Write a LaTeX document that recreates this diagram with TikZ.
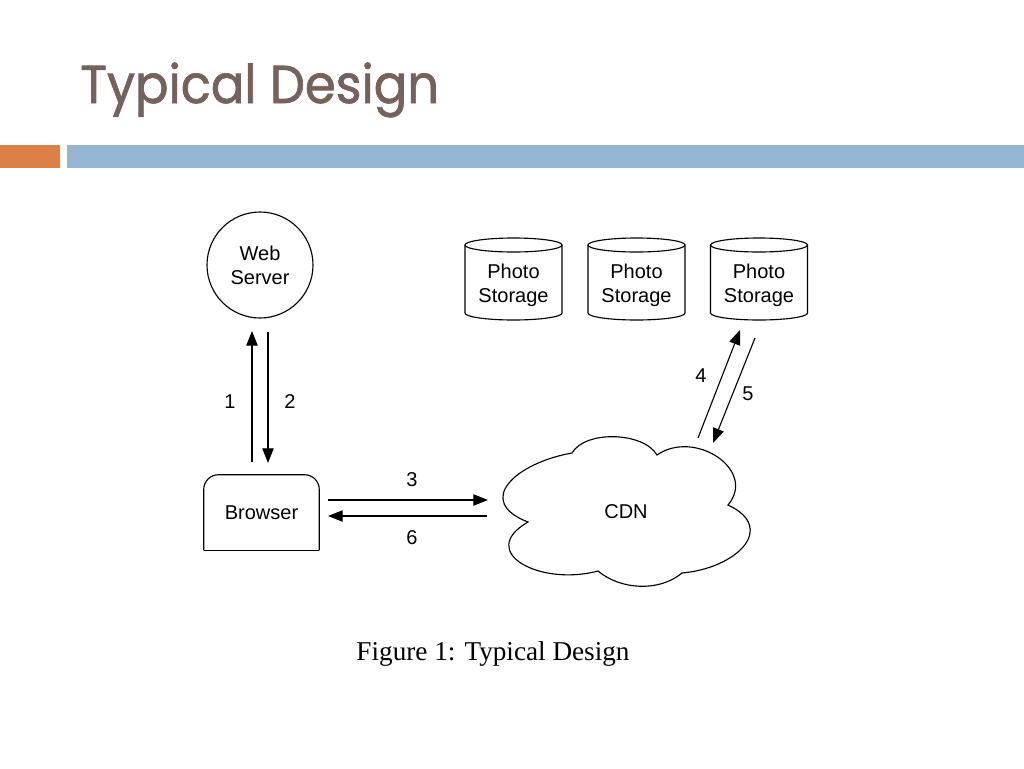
\documentclass[tikz,border=0pt]{standalone}
\usepackage{fontspec}
\setmainfont{Liberation Sans}
\newfontfamily\titlefont[FakeStretch=0.93, FakeBold=1.3]{Poppins}
\newfontfamily\capfont{Liberation Serif}
\usetikzlibrary{arrows.meta}
\definecolor{titlecol}{RGB}{118,98,92}
\definecolor{barorange}{RGB}{221,128,71}
\definecolor{barblue}{RGB}{148,182,210}
\tikzset{
  lbl/.style={font=\fontsize{15pt}{18pt}\selectfont, inner sep=0pt},
  conn/.style={line width=0.85pt, -{Triangle[length=11pt,width=8.5pt]}},
  shapeline/.style={line width=0.85pt},
}
\begin{document}
\begin{tikzpicture}[x=0.75pt,y=0.75pt]
\useasboundingbox (0,0) rectangle (1024,-768);
\fill[white] (0,0) rectangle (1024,-768);
% header
\node[anchor=base west, inner sep=0pt, text=titlecol, font=\titlefont\fontsize{40pt}{48pt}\selectfont] (title) at (80,-103) {Typical Design};
\fill[barorange] (0,-145) rectangle (60,-168);
\fill[barblue] (67,-145) rectangle (1024,-168);
% web server
\node[circle, draw, shapeline, minimum size=79.5pt, inner sep=0pt, align=center, lbl] (ws) at (260,-265) {Web\\Server};
% browser
\node[minimum width=86.25pt, minimum height=56.25pt, inner sep=0pt, lbl] (br) at (261.5,-512.5) {Browser};
\draw[shapeline, rounded corners=11pt] (br.south west) -- (br.north west) -- (br.north east) -- (br.south east);
\draw[shapeline] (br.south west) -- (br.south east);
% photo storage cylinders
\foreach \n/\cx in {1/513.5, 2/636.5, 3/759}{
  \node[align=center, lbl, minimum width=72.75pt, minimum height=61.5pt] (ps\n) at (\cx,-285) {Photo\\Storage};
  \draw[shapeline] (\cx-48.5,-245) -- (\cx-48.5,-313) arc[start angle=180, end angle=360, x radius=48.5, y radius=7] -- (\cx+48.5,-245);
  \draw[shapeline] (\cx,-245) ellipse[x radius=48.5, y radius=7];
}
% CDN cloud
\node[lbl, minimum width=180pt, minimum height=105pt] (cdn) at (626,-512) {CDN};
\draw[shapeline] (528,-522)
  to[out=159, in=-170, looseness=1.8] (572,-453)
  to[out=60, in=120, looseness=0.8] (657,-455)
  to[out=35, in=50, looseness=1.35] (728,-505)
  to[out=-25, in=5, looseness=1.7] (682,-573)
  to[out=-140, in=-40, looseness=0.9] (598,-571)
  to[out=-165, in=-150, looseness=1.8] cycle;
% connector end points
\coordinate (a1s) at (252,-462); \coordinate (a1e) at (252,-331);
\coordinate (a2s) at (268,-332); \coordinate (a2e) at (268,-463);
\coordinate (a3s) at (328,-500); \coordinate (a3e) at (488,-500);
\coordinate (a6s) at (487,-516); \coordinate (a6e) at (328,-516);
\coordinate (a4s) at (698,-438); \coordinate (a4e) at (740,-330);
\coordinate (a5s) at (755,-338); \coordinate (a5e) at (713,-443);
\draw[conn] (a1s) -- (a1e);
\draw[conn] (a2s) -- (a2e);
\draw[conn] (a3s) -- (a3e);
\draw[conn] (a6s) -- (a6e);
\draw[conn] (a4s) -- (a4e);
\draw[conn] (a5s) -- (a5e);
% labels
\node[lbl] (n1) at (230,-402) {1};
\node[lbl] (n2) at (290,-402) {2};
\node[lbl] (n3) at (412,-480) {3};
\node[lbl] (n6) at (412,-538) {6};
\node[lbl] (n4) at (701,-376) {4};
\node[lbl] (n5) at (748,-394) {5};
% caption
\node[anchor=base, inner sep=0pt, font=\capfont\fontsize{20.4pt}{24pt}\selectfont] (cap) at (493,-660) {Figure 1: Typical Design};
\end{tikzpicture}
\end{document}
